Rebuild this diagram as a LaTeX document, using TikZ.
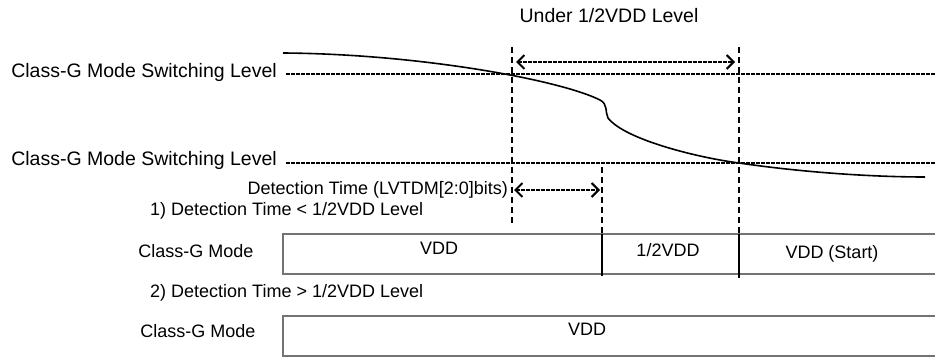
\documentclass[tikz,border=0pt]{standalone}
\usepackage{fontspec}
\setmainfont{Liberation Sans}
\usetikzlibrary{arrows.meta}
\begin{document}
\begin{tikzpicture}[x=1pt,y=-1pt,
  lbl/.style={font=\fontsize{18}{20}\selectfont, inner sep=0pt},
  biglbl/.style={font=\fontsize{19.5}{22}\selectfont, inner sep=0pt},
  hdash/.style={line width=1.8pt, dash pattern=on 3.5pt off 1.5pt},
  vdash/.style={line width=1.6pt, dash pattern=on 6pt off 4pt},
  barb/.tip={Straight Barb[length=7pt,width=14pt,line width=2pt]},
  dimarrow/.style={hdash, barb-barb},
  boxline/.style={draw=black!55, line width=1.6pt},
  divider/.style={draw=black, line width=1.1pt},
  wave/.style={line width=1.6pt}
]
\useasboundingbox (0,0) rectangle (935,358);

% labels
\node[biglbl] (under) at (609,16) {Under 1/2VDD Level};
\node[biglbl, anchor=mid east] (sw1) at (277,75) {Class-G Mode Switching Level};
\node[biglbl, anchor=mid east] (sw2) at (277,163) {Class-G Mode Switching Level};
\node[lbl, anchor=mid east] (det) at (508,192) {Detection Time (LVTDM[2:0]bits)};
\node[lbl, anchor=mid west] (c1) at (150,213) {1) Detection Time < 1/2VDD Level};
\node[lbl, anchor=mid west] (c2) at (150,295) {2) Detection Time > 1/2VDD Level};
\node[lbl, anchor=mid] (m1) at (196,255) {Class-G Mode};
\node[lbl, anchor=mid] (m2) at (198,335) {Class-G Mode};
\node[lbl, anchor=mid] (v1) at (439,252) {VDD};
\node[lbl, anchor=mid] (v2) at (668,254) {1/2VDD};
\node[lbl, anchor=mid] (v3) at (832,256) {VDD (Start)};
\node[lbl, anchor=mid] (v4) at (587,333) {VDD};

% coordinates
\coordinate (L1e) at (935,74);
\coordinate (L2e) at (935,163);
\coordinate (A1t) at (512,47);
\coordinate (A1b) at (512,223);
\coordinate (A2t) at (739,47);
\coordinate (A2b) at (739,234);
\coordinate (A3t) at (602,167);
\coordinate (A3b) at (602,234);
\coordinate (B1tl) at (283,234);
\coordinate (B1tr) at (935,234);
\coordinate (B1bl) at (283,274);
\coordinate (B1br) at (935,274);
\coordinate (B2tl) at (283,316);
\coordinate (B2tr) at (935,316);
\coordinate (B2bl) at (283,356);
\coordinate (B2br) at (935,356);
\coordinate (D1b) at (602,276);
\coordinate (D2b) at (739,278);
\coordinate (U1) at (516,62);
\coordinate (U2) at (735,62);
\coordinate (T1) at (514,190);
\coordinate (T2) at (600,190);

% switching levels
\draw[hdash] ([xshift=9pt]sw1.mid east |- L1e) -- (L1e);
\draw[hdash] ([xshift=9pt]sw2.mid east |- L2e) -- (L2e);

% vertical markers
\draw[vdash] (A1t) -- (A1b);
\draw[vdash] (A2t) -- (A2b);
\draw[vdash] (A3t) -- (A3b);

% dimension arrows
\draw[dimarrow] (U1) -- (U2);
\draw[dimarrow] (T1) -- (T2);

% voltage waveform
\draw[wave] (283,53) .. controls (420,54) and (560,80) .. (600,100)
  .. controls (608,104) and (605,112) .. (608,118)
  .. controls (625,140) and (700,158) .. (739,163)
  .. controls (800,172) and (870,177) .. (925,177);

% mode boxes
\draw[boxline] (B1tr) -- (B1tl) -- (B1bl) -- (B1br);
\draw[boxline] (B2tr) -- (B2tl) -- (B2bl) -- (B2br);
\draw[divider] (A3b) -- (D1b);
\draw[divider] (A2b) -- (D2b);
\end{tikzpicture}
\end{document}
